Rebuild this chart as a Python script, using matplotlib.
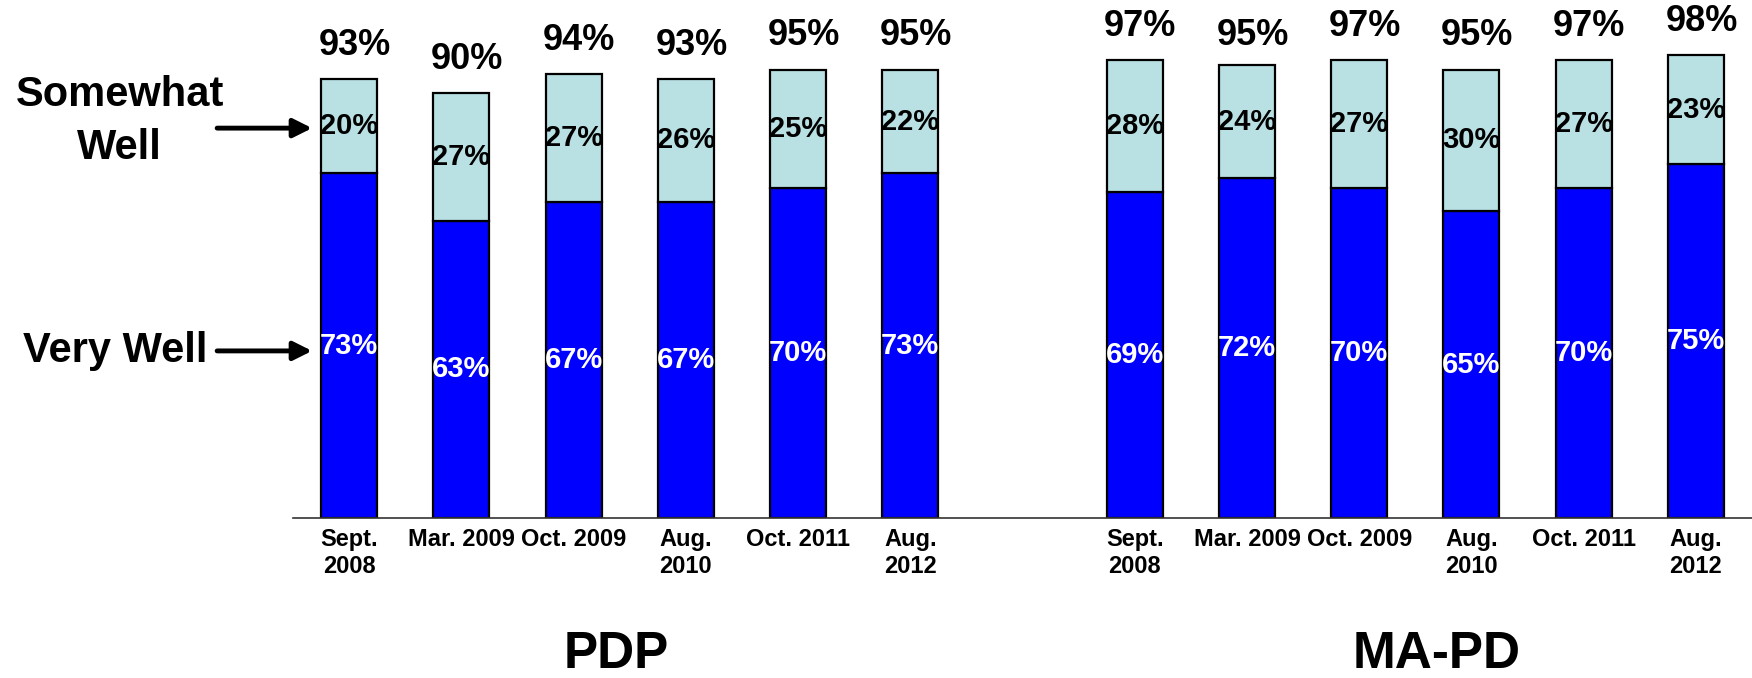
import numpy as np
import matplotlib.pyplot as plt

plt.rcParams['font.family'] = ['Liberation Sans', 'DejaVu Sans']
plt.rcParams['font.weight'] = 'bold'

# survey waves (same for both plan types)
waves = ['Sept.\n2008', 'Mar. 2009', 'Oct. 2009', 'Aug.\n2010', 'Oct. 2011', 'Aug.\n2012']

# PDP
pdp_very = [73, 63, 67, 67, 70, 73]
pdp_some = [20, 27, 27, 26, 25, 22]
pdp_total = [93, 90, 94, 93, 95, 95]

# MA-PD
ma_very = [69, 72, 70, 65, 70, 75]
ma_some = [28, 24, 27, 30, 27, 23]
ma_total = [97, 95, 97, 95, 97, 98]

groups = ['PDP', 'MA-PD']

blue = '#0000FF'
light = '#B9E0E3'

# one empty slot between the two groups
x = np.r_[np.arange(6), np.arange(6) + 7]
very = np.array(pdp_very + ma_very)
some = np.array(pdp_some + ma_some)
total = pdp_total + ma_total
labels = waves + waves

fig = plt.figure(figsize=(17.52, 6.78), dpi=100)
ax = fig.add_axes([293/1752, 1 - 518/678, 1 - 293/1752, 472/678])

ax.bar(x, very, width=0.5, color=blue, edgecolor='black', lw=1.6, zorder=2)
ax.bar(x, some, width=0.5, bottom=very, color=light, edgecolor='black', lw=1.6, zorder=2)

for xi, v, s, t in zip(x, very, some, total):
    ax.text(xi, v/2, f'{v}%', ha='center', va='center', color='white',
            fontsize=21, fontweight='bold', zorder=3)
    ax.text(xi, v + s/2, f'{s}%', ha='center', va='center', color='black',
            fontsize=21, fontweight='bold', zorder=3)
    ax.text(xi + 0.05, t + 7.2, f'{t}%', ha='center', va='center', color='black',
            fontsize=26, fontweight='bold')

ax.set_xlim(-0.5, 12.5)
ax.set_ylim(0, 100)
ax.set_xticks(x)
ax.set_xticklabels(labels, fontsize=17, fontweight='bold', linespacing=1.25)
ax.tick_params(axis='x', length=0, pad=7)
ax.set_yticks([])
for sp in ['left', 'right', 'top']:
    ax.spines[sp].set_visible(False)
ax.spines['bottom'].set_color('#333333')
ax.spines['bottom'].set_linewidth(1.2)

# group names under the axis
ax.text(2.38, -31.8, groups[0], ha='center', va='baseline', fontsize=37,
        fontweight='bold', clip_on=False)
ax.text(9.69, -31.8, groups[1], ha='center', va='baseline', fontsize=37,
        fontweight='bold', clip_on=False)

# legend-like callouts on the left
ax.text(-2.045, 84.0, 'Somewhat\nWell', ha='center', va='center', fontsize=30,
        fontweight='bold', linespacing=1.4, clip_on=False)
ax.text(-2.08, 35.4, 'Very Well', ha='center', va='center', fontsize=30,
        fontweight='bold', clip_on=False)
arrow = dict(arrowstyle='-|>', lw=3.5, color='black', mutation_scale=28,
             shrinkA=0, shrinkB=0)
ax.annotate('', xy=(-0.33, 82.6), xytext=(-1.176, 82.6), arrowprops=arrow,
            annotation_clip=False)
ax.annotate('', xy=(-0.33, 35.4), xytext=(-1.176, 35.4), arrowprops=arrow,
            annotation_clip=False)

fig.savefig('out.png', dpi=100)
